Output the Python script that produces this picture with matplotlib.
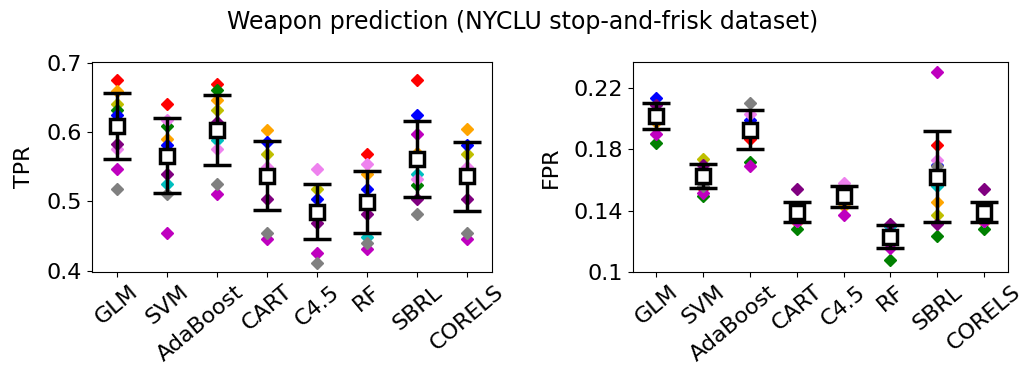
import matplotlib

matplotlib.use("Agg")
import matplotlib.pyplot as plt
import matplotlib.transforms as mtransforms
import numpy as np

# methods shown on the x axis
methods = ["GLM", "SVM", "AdaBoost", "CART", "C4.5", "RF", "SBRL", "CORELS"]

# one colour per fold (10 folds)
fold_colors = ["red", "orange", "y", "g", "b", "c", "violet", "purple", "m", "gray"]

# TPR per fold, one row per method (columns follow fold_colors)
tpr_glm = [0.675, 0.660, 0.640, 0.632, 0.625, 0.610, 0.575, 0.583, 0.546, 0.518]
tpr_svm = [0.640, 0.590, 0.570, 0.609, 0.582, 0.525, 0.618, 0.540, 0.454, 0.511]
tpr_ada = [0.669, 0.647, 0.632, 0.661, 0.605, 0.589, 0.575, 0.614, 0.511, 0.525]
tpr_cart = [0.540, 0.603, 0.568, 0.545, 0.585, 0.535, 0.550, 0.504, 0.446, 0.454]
tpr_c45 = [0.485, 0.490, 0.518, 0.480, 0.504, 0.488, 0.547, 0.468, 0.425, 0.411]
tpr_rf = [0.568, 0.540, 0.500, 0.495, 0.518, 0.448, 0.554, 0.481, 0.431, 0.440]
tpr_sbrl = [0.675, 0.570, 0.560, 0.524, 0.625, 0.540, 0.532, 0.504, 0.597, 0.482]
tpr_corels = [0.540, 0.604, 0.568, 0.545, 0.582, 0.535, 0.550, 0.504, 0.446, 0.454]

tpr_mean = [0.609, 0.566, 0.603, 0.537, 0.485, 0.499, 0.561, 0.536]
tpr_std = [0.048, 0.054, 0.051, 0.050, 0.040, 0.045, 0.055, 0.050]

# FPR per fold
fpr_glm = [0.200, 0.198, 0.201, 0.1843, 0.2135, 0.203, 0.202, 0.2092, 0.1904, 0.200]
fpr_svm = [0.1551, 0.164, 0.1735, 0.1497, 0.163, 0.162, 0.168, 0.1698, 0.1515, 0.1562]
fpr_ada = [0.1871, 0.195, 0.192, 0.172, 0.199, 0.193, 0.2034, 0.194, 0.1692, 0.2105]
fpr_cart = [0.1324, 0.139, 0.138, 0.1281, 0.140, 0.139, 0.133, 0.154, 0.133, 0.138]
fpr_c45 = [0.149, 0.1428, 0.150, 0.148, 0.151, 0.155, 0.1584, 0.147, 0.1374, 0.149]
fpr_rf = [0.123, 0.124, 0.122, 0.1076, 0.130, 0.130, 0.124, 0.1316, 0.1154, 0.123]
fpr_sbrl = [0.1832, 0.146, 0.1374, 0.1238, 0.170, 0.1562, 0.1731, 0.1313, 0.2304, 0.1692]
fpr_corels = [0.1324, 0.139, 0.138, 0.1281, 0.140, 0.139, 0.133, 0.154, 0.133, 0.138]

fpr_mean = [0.2017, 0.1629, 0.193, 0.139, 0.1493, 0.123, 0.1623, 0.139]
fpr_std = [0.0086, 0.0079, 0.0125, 0.0065, 0.0070, 0.0075, 0.0295, 0.0065]

tpr_folds = [tpr_glm, tpr_svm, tpr_ada, tpr_cart, tpr_c45, tpr_rf, tpr_sbrl, tpr_corels]
fpr_folds = [fpr_glm, fpr_svm, fpr_ada, fpr_cart, fpr_c45, fpr_rf, fpr_sbrl, fpr_corels]

plt.rcParams["font.family"] = ["DejaVu Sans"]

fig = plt.figure(figsize=(10.24, 3.7), dpi=100)
ax_tpr = fig.add_axes([0.0898, 0.265, 0.391, 0.567])
ax_fpr = fig.add_axes([0.618, 0.265, 0.366, 0.567])


def draw_panel(ax, folds, means, stds, ylabel, yticks, yticklabels, ylim):
    x = np.arange(len(methods))
    folds = np.asarray(folds)
    for j, col in enumerate(fold_colors):
        ax.plot(x, folds[:, j], "D", color=col, markersize=6, linestyle="none", zorder=2)
    ax.errorbar(
        x,
        means,
        yerr=stds,
        fmt="s",
        color="black",
        markersize=10,
        markerfacecolor="white",
        markeredgecolor="black",
        markeredgewidth=2.5,
        elinewidth=2.5,
        capsize=10,
        capthick=2.5,
        zorder=3,
    )
    ax.set_xlim(-0.5, len(methods) - 0.5)
    ax.set_ylim(*ylim)
    ax.set_xticks(x)
    labels = ax.set_xticklabels(methods, rotation=40, fontsize=16)
    # the long AdaBoost label sits a little to the left in the original
    for lbl in labels:
        if lbl.get_text() == "AdaBoost":
            shift = mtransforms.ScaledTranslation(-0.17, 0.0, fig.dpi_scale_trans)
            lbl.set_transform(lbl.get_transform() + shift)
    ax.set_yticks(yticks)
    ax.set_yticklabels(yticklabels, fontsize=16)
    ax.set_ylabel(ylabel, fontsize=16, labelpad=9)


draw_panel(
    ax_tpr, tpr_folds, tpr_mean, tpr_std, "TPR",
    [0.4, 0.5, 0.6, 0.7], ["0.4", "0.5", "0.6", "0.7"], (0.398, 0.701),
)
draw_panel(
    ax_fpr, fpr_folds, fpr_mean, fpr_std, "FPR",
    [0.1, 0.14, 0.18, 0.22], ["0.1", "0.14", "0.18", "0.22"], (0.1, 0.237),
)

fig.suptitle(
    "Weapon prediction (NYCLU stop-and-frisk dataset)",
    fontsize=17, x=0.51, y=0.94, va="center",
)

fig.savefig("out.png", dpi=100)
